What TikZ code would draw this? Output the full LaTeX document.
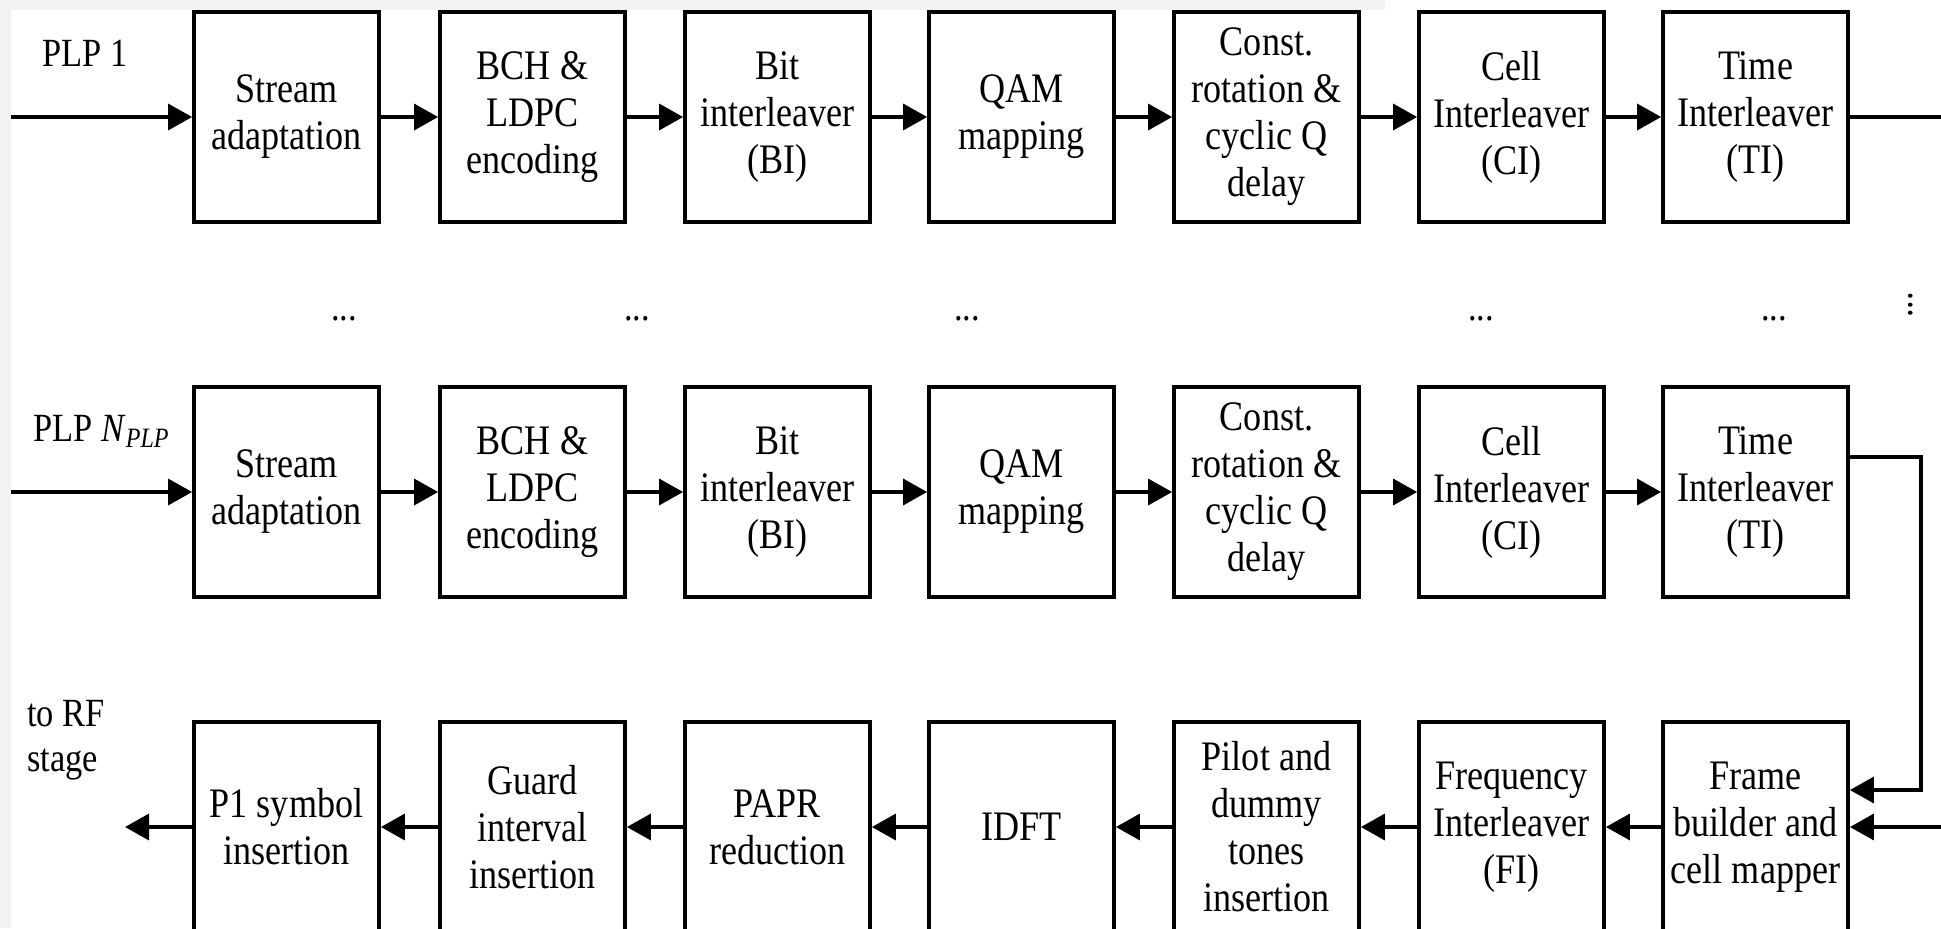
\documentclass[tikz,border=0pt]{standalone}
\usepackage{fontspec}
\setmainfont{Liberation Serif}[FakeStretch=0.86]
\usetikzlibrary{arrows.meta}
\begin{document}
\begin{tikzpicture}[x=0.5pt,y=-0.5pt,
  blk/.style={draw=black, line width=1.9pt, minimum width=92.5pt, minimum height=105pt,
    inner sep=0pt, align=center, fill=white, font=\fontsize{21pt}{23.5pt}\selectfont},
  conn/.style={line width=1.75pt, -{Triangle[length=12pt,width=13pt]}},
  plain/.style={line width=1.75pt},
  lbl/.style={inner sep=0pt, font=\fontsize{20pt}{22.5pt}\selectfont},
  dotsty/.style={inner sep=0pt, anchor=base, font=\fontsize{20pt}{22.5pt}\selectfont}
]
\useasboundingbox (0,0) rectangle (1941,928);
\fill[white] (0,0) rectangle (1941,928);
\fill[black!5] (0,0) rectangle (1385,10);
\fill[black!5] (0,0) rectangle (11,928);

% row 1
\node[blk] (a1) at (286.5,117) {Stream\\adaptation};
\node[blk] (a2) at (532.5,117) {BCH \&\\LDPC\\encoding};
\node[blk] (a3) at (777.5,117) {Bit\\interleaver\\(BI)};
\node[blk] (a4) at (1021.5,117) {QAM\\mapping};
\node[blk] (a5) at (1266.5,117) {Const.\\rotation \&\\cyclic Q\\delay};
\node[blk] (a6) at (1511.5,117) {Cell\\Interleaver\\(CI)};
\node[blk] (a7) at (1755.5,117) {Time\\Interleaver\\(TI)};

% row 2
\node[blk] (b1) at (286.5,492) {Stream\\adaptation};
\node[blk] (b2) at (532.5,492) {BCH \&\\LDPC\\encoding};
\node[blk] (b3) at (777.5,492) {Bit\\interleaver\\(BI)};
\node[blk] (b4) at (1021.5,492) {QAM\\mapping};
\node[blk] (b5) at (1266.5,492) {Const.\\rotation \&\\cyclic Q\\delay};
\node[blk] (b6) at (1511.5,492) {Cell\\Interleaver\\(CI)};
\node[blk] (b7) at (1755.5,492) {Time\\Interleaver\\(TI)};

% row 3
\node[blk] (c1) at (286.5,827) {P1 symbol\\insertion};
\node[blk] (c2) at (532.5,827) {Guard\\interval\\insertion};
\node[blk] (c3) at (777.5,827) {PAPR\\reduction};
\node[blk] (c4) at (1021.5,827) {IDFT};
\node[blk] (c5) at (1266.5,827) {Pilot and\\dummy\\tones\\insertion};
\node[blk] (c6) at (1511.5,827) {Frequency\\Interleaver\\(FI)};
\node[blk] (c7) at (1755.5,827) {Frame\\builder and\\cell mapper};

% labels
\node[lbl, anchor=base west] (plp1) at (42,66) {PLP 1};
\node[lbl, anchor=base west] (plpn) at (33,441) {PLP \textit{N}\textsubscript{\textit{PLP}}};
\node[lbl, anchor=north west, align=left] (rf) at (27,700) {to RF\\stage};

% dots
\node[dotsty] (d1) at (344,320) {...};
\node[dotsty] (d2) at (637,320) {...};
\node[dotsty] (d3) at (967,320) {...};
\node[dotsty] (d4) at (1481,320) {...};
\node[dotsty] (d5) at (1774,320) {...};
\node[dotsty, rotate=90] (d6) at (1912,305) {...};

% coordinates
\coordinate (in1) at (11,117);
\coordinate (out1) at (1941,117);
\coordinate (in2) at (11,492);
\coordinate (t1) at (1921,457);
\coordinate (t2) at (1921,790);
\coordinate (in3) at (1941,827);
\coordinate (rfout) at (125,827);

% row 1 connectors
\draw[conn] (in1) -- (a1);
\draw[conn] (a1) -- (a2);
\draw[conn] (a2) -- (a3);
\draw[conn] (a3) -- (a4);
\draw[conn] (a4) -- (a5);
\draw[conn] (a5) -- (a6);
\draw[conn] (a6) -- (a7);
\draw[plain] (a7) -- (out1);

% row 2 connectors
\draw[conn] (in2) -- (b1);
\draw[conn] (b1) -- (b2);
\draw[conn] (b2) -- (b3);
\draw[conn] (b3) -- (b4);
\draw[conn] (b4) -- (b5);
\draw[conn] (b5) -- (b6);
\draw[conn] (b6) -- (b7);
\draw[conn] (b7.east |- t1) -- (t1) -- (t2) -- (c7.east |- t2);

% row 3 connectors
\draw[conn] (in3) -- (c7);
\draw[conn] (c7) -- (c6);
\draw[conn] (c6) -- (c5);
\draw[conn] (c5) -- (c4);
\draw[conn] (c4) -- (c3);
\draw[conn] (c3) -- (c2);
\draw[conn] (c2) -- (c1);
\draw[conn] (c1) -- (rfout);
\end{tikzpicture}
\end{document}
